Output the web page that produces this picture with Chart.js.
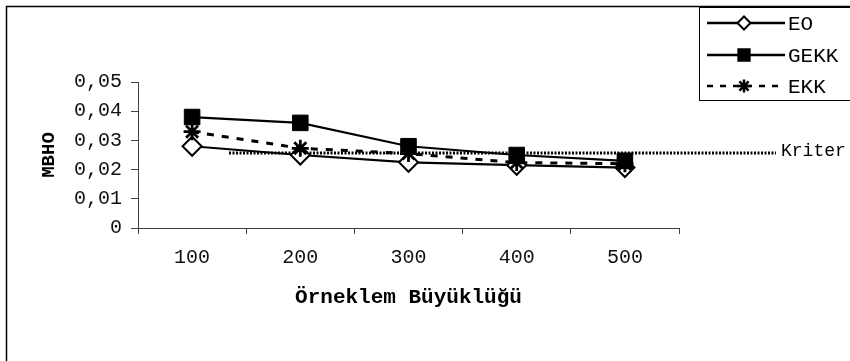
<!DOCTYPE html>
<html>
<head>
<meta charset="utf-8">
<script src="https://cdn.jsdelivr.net/npm/chart.js@4/dist/chart.umd.min.js"></script>
<style>
html,body{margin:0;padding:0;background:#fff;}
canvas{display:block;}
</style>
</head>
<body>
<canvas id="c" width="850" height="361"></canvas>
<script>
const categories = ['100', '200', '300', '400', '500'];
const eoValues = [0.028, 0.025, 0.0225, 0.0215, 0.0207];
const gekkValues = [0.038, 0.036, 0.028, 0.025, 0.023];
const ekkValues = [0.033, 0.0273, 0.0255, 0.0224, 0.022];
const kriterValue = 0.0257;
const kriterLabel = 'Kriter';
const yTickValues = [0, 0.01, 0.02, 0.03, 0.04, 0.05];
const xTitle = 'Örneklem Büyüklüğü';
const yTitle = 'MBHO';

const MONO = '"Liberation Mono", "Courier New", monospace';
const AXIS = '#404040';

function fmtTick(v) {
  if (Math.abs(v) < 1e-9) return '0';
  return v.toFixed(2).replace('.', ',');
}

function drawMarker(ctx, style, x, y, r, fill) {
  ctx.save();
  ctx.strokeStyle = '#000';
  ctx.fillStyle = fill;
  ctx.lineWidth = 2;
  ctx.setLineDash([]);
  ctx.beginPath();
  if (style === 'rectRot') {
    ctx.moveTo(x - r, y); ctx.lineTo(x, y - r); ctx.lineTo(x + r, y); ctx.lineTo(x, y + r); ctx.closePath();
    ctx.fill(); ctx.stroke();
  } else if (style === 'rect') {
    const s = r * Math.SQRT1_2;
    ctx.rect(x - s, y - s, 2 * s, 2 * s);
    ctx.fill(); ctx.stroke();
  } else if (style === 'star') {
    ctx.lineWidth = 2.5;
    ctx.moveTo(x, y - r); ctx.lineTo(x, y + r);
    ctx.moveTo(x - r, y); ctx.lineTo(x + r, y);
    const d = r * Math.SQRT1_2;
    ctx.moveTo(x - d, y - d); ctx.lineTo(x + d, y + d);
    ctx.moveTo(x - d, y + d); ctx.lineTo(x + d, y - d);
    ctx.stroke();
  }
  ctx.restore();
}

const kriterPlugin = {
  id: 'kriter',
  beforeDatasetsDraw(chart) {
    const {ctx, chartArea, scales} = chart;
    const y = scales.y.getPixelForValue(kriterValue);
    ctx.save();
    ctx.strokeStyle = '#000';
    ctx.lineWidth = 3;
    ctx.setLineDash([2, 1.5]);
    ctx.beginPath();
    ctx.moveTo(chartArea.left + 91, y);
    ctx.lineTo(chartArea.right + 97, y);
    ctx.stroke();
    ctx.restore();
  },
  afterDraw(chart) {
    const {ctx, chartArea, scales} = chart;
    const y = scales.y.getPixelForValue(kriterValue);
    ctx.save();
    ctx.fillStyle = '#000';
    ctx.font = '18px ' + MONO;
    ctx.textBaseline = 'middle';
    ctx.textAlign = 'left';
    ctx.fillText(kriterLabel, chartArea.right + 102, y - 2);
    ctx.restore();
  }
};

const frameLegendPlugin = {
  id: 'frameLegend',
  afterDraw(chart) {
    const ctx = chart.ctx;
    ctx.save();
    ctx.strokeStyle = '#000';
    ctx.lineWidth = 1.5;
    ctx.setLineDash([]);
    ctx.strokeRect(6.5, 6.5, 900, 400);
    ctx.lineWidth = 1;
    ctx.strokeRect(699.5, 7.5, 200, 93);
    const rows = [23, 55, 86];
    chart.data.datasets.forEach((ds, i) => {
      const y = rows[i];
      ctx.save();
      ctx.strokeStyle = '#000';
      ctx.lineWidth = 2.5;
      ctx.setLineDash(ds.borderDash ? [6, 7] : []);
      ctx.beginPath();
      ctx.moveTo(707, y);
      ctx.lineTo(785, y);
      ctx.stroke();
      ctx.restore();
      drawMarker(ctx, ds.pointStyle, 744, y, ds.pointStyle === 'rect' ? 8 : 6.5, ds.pointBackgroundColor);
      ctx.fillStyle = '#000';
      ctx.font = '21px ' + MONO;
      ctx.textBaseline = 'middle';
      ctx.textAlign = 'left';
      ctx.fillText(ds.label, 788, y + 1);
    });
    ctx.restore();
  }
};

new Chart(document.getElementById('c'), {
  type: 'line',
  data: {
    labels: categories,
    datasets: [
      {
        label: 'EO', data: eoValues, order: 3,
        borderColor: '#000', borderWidth: 2.2,
        pointStyle: 'rectRot', pointRadius: 9.5, pointBorderWidth: 2,
        pointBackgroundColor: '#fff', pointBorderColor: '#000',
        tension: 0
      },
      {
        label: 'GEKK', data: gekkValues, order: 2,
        borderColor: '#000', borderWidth: 2.2,
        pointStyle: 'rect', pointRadius: 11, pointBorderWidth: 1,
        pointBackgroundColor: '#000', pointBorderColor: '#000',
        tension: 0
      },
      {
        label: 'EKK', data: ekkValues, order: 1,
        borderColor: '#000', borderWidth: 3, borderDash: [7, 8],
        pointStyle: 'star', pointRadius: 8.5, pointBorderWidth: 2.8,
        pointBackgroundColor: '#000', pointBorderColor: '#000',
        tension: 0
      }
    ]
  },
  options: {
    responsive: false,
    animation: false,
    devicePixelRatio: 1,
    layout: { padding: { top: 82, right: 171, bottom: 0, left: 0 } },
    plugins: { legend: { display: false }, tooltip: { enabled: false }, title: { display: false } },
    scales: {
      x: {
        type: 'category',
        offset: true,
        afterFit(s) { s.height = 133; },
        grid: { offset: true, drawOnChartArea: false, drawTicks: true, tickLength: 6, color: AXIS, lineWidth: 1 },
        border: { display: true, color: AXIS, width: 1 },
        ticks: { color: '#111', font: { family: MONO, size: 20 }, padding: 12, maxRotation: 0, autoSkip: false },
        title: { display: true, text: xTitle, color: '#000', font: { family: MONO, size: 21, weight: 'bold' }, padding: { top: 0, bottom: 51 } }
      },
      y: {
        min: 0, max: 0.05,
        afterFit(s) { s.width = 138; },
        afterBuildTicks(s) { s.ticks = yTickValues.map(v => ({ value: v })); },
        grid: { drawOnChartArea: false, drawTicks: true, tickLength: 7, color: AXIS, lineWidth: 1 },
        border: { display: true, color: AXIS, width: 1 },
        ticks: { color: '#111', font: { family: MONO, size: 20 }, padding: 9, callback: (v) => fmtTick(v) },
        title: { display: true, text: yTitle, color: '#000', font: { family: MONO, size: 19, weight: 'bold' }, padding: { top: 38, bottom: 0 } }
      }
    }
  },
  plugins: [kriterPlugin, frameLegendPlugin]
});
</script>
</body>
</html>
